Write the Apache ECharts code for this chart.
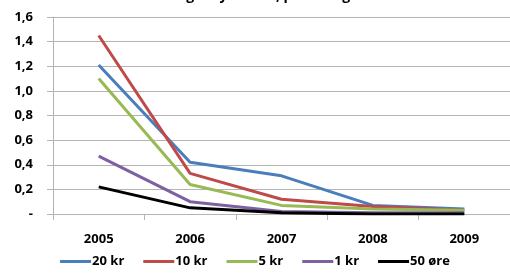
<!DOCTYPE html>
<html>
<head>
<meta charset="utf-8">
<script src="https://cdn.jsdelivr.net/npm/echarts@6/dist/echarts.min.js"></script>
<style>
  html, body { margin: 0; padding: 0; background: #fff; }
  #chart { width: 510px; height: 273px; }
</style>
</head>
<body>
<div id="chart"></div>
<script>
// år på x-aksen
const years = ['2005', '2006', '2007', '2008', '2009']
// verdier per mynt
const kr20 = [1.21, 0.42, 0.31, 0.07, 0.04]
const kr10 = [1.45, 0.33, 0.12, 0.06, 0.03]
const kr5 = [1.10, 0.24, 0.07, 0.04, 0.03]
const kr1 = [0.47, 0.10, 0.02, 0.01, 0.01]
const ore50 = [0.22, 0.05, 0.01, 0.00, 0.00]
const seriesNames = ['20 kr', '10 kr', '5 kr', '1 kr', '50 øre']
const seriesColors = ['#4A7EBB', '#BE4B48', '#98B954', '#7D60A0', '#000000']

const chart = echarts.init(document.getElementById('chart'))
const font = 'Open Sans'

const makeLine = (name, data, i) => {
  return {
    name: name,
    type: 'line',
    data: data,
    symbol: 'none',
    lineStyle: { width: 3, color: seriesColors[i] },
    itemStyle: { color: seriesColors[i] }
  }
}

const option = {
  animation: false,
  title: {
    text: 'Endring i myntbruk, per kategori',
    left: 'center',
    top: -16,
    textStyle: { fontFamily: font, fontSize: 14, fontWeight: 'bold', color: '#000' }
  },
  grid: {
    left: 53,
    right: -6,
    top: 17,
    bottom: 59
  },
  xAxis: {
    type: 'category',
    data: years,
    boundaryGap: true,
    axisLine: { lineStyle: { color: '#B4B4B4', width: 1 } },
    axisTick: { show: true, length: 6, lineStyle: { color: '#B4B4B4' } },
    axisLabel: { margin: 19, fontFamily: font, fontSize: 13, fontWeight: 'bold', color: '#000' }
  },
  yAxis: {
    type: 'value',
    min: 0,
    max: 1.6,
    interval: 0.2,
    axisLine: { show: true, lineStyle: { color: '#B4B4B4', width: 1 } },
    axisTick: { show: true, length: 6, lineStyle: { color: '#B4B4B4' } },
    splitLine: { lineStyle: { color: '#B4B4B4', width: 1 } },
    axisLabel: {
      margin: 20,
      fontFamily: font,
      fontSize: 13,
      fontWeight: 'bold',
      color: '#000',
      formatter: (v) => v === 0 ? '-' : v.toFixed(1).replace('.', ',')
    }
  },
  legend: {
    bottom: 0,
    left: 'center',
    itemGap: 19,
    itemWidth: 31,
    itemHeight: 3,
    icon: 'rect',
    textStyle: { fontFamily: font, fontSize: 13, fontWeight: 'bold', color: '#000', padding: [0, 0, 0, -4] },
    data: seriesNames
  },
  series: [
    makeLine(seriesNames[0], kr20, 0),
    makeLine(seriesNames[1], kr10, 1),
    makeLine(seriesNames[2], kr5, 2),
    makeLine(seriesNames[3], kr1, 3),
    makeLine(seriesNames[4], ore50, 4)
  ]
}
chart.setOption(option)
</script>
</body>
</html>
